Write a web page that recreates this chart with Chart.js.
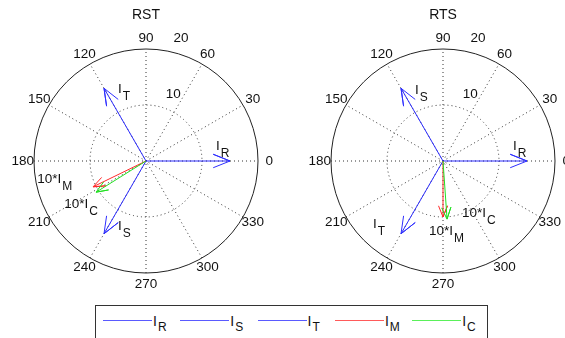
<!DOCTYPE html>
<html>
<head>
<meta charset="utf-8">
<script src="https://cdn.jsdelivr.net/npm/chart.js@4.4.0/dist/chart.umd.min.js"></script>
<style>
  body { margin: 0; background: #fff; width: 565px; height: 338px; overflow: hidden; position: relative;
         font-family: "Liberation Sans", Arial, Helvetica, sans-serif; }
  canvas { position: absolute; top: 0; }
  #rst { left: 0; }
  #rts { left: 295px; }
  #legend { position: absolute; left: 95px; top: 305px; width: 393px; height: 45px;
            border: 1px solid #333; box-sizing: border-box; }
  .lg-line { position: absolute; top: 14px; width: 49px; height: 1px; }
  .lg-text { position: absolute; top: 8px; font-size: 14px; line-height: 14px; color: #111; white-space: nowrap; }
  .lg-text span { position: relative; top: 5px; font-size: 12px; margin-left: 1px; }
</style>
</head>
<body>
<canvas id="rst" width="295" height="300"></canvas>
<canvas id="rts" width="270" height="300"></canvas>
<div id="legend"></div>
<script>
// ----------------------
// DATA
// ----------------------
const angleTicks = [0, 30, 60, 90, 120, 150, 180, 210, 240, 270, 300, 330];
const ringTicks = [10, 20];

const seriesSub = ['R', 'S', 'T', 'M', 'C'];
const labelMain = ['I', 'I', 'I', '10*I', '10*I'];

// RST: magnitudes and angles (deg), currents M and C scaled x10
const rstMagnitude = [15, 15, 15, 10.5, 10.5];
const rstAngle = [0, 240, 120, 206, 212];

// RTS
const rtsMagnitude = [15, 15, 15, 10, 10.4];
const rtsAngle = [0, 120, 240, 270, 274];

// ----------------------
// STYLE
// ----------------------
const seriesColors = ['#2e2eff', '#2e2eff', '#2e2eff', '#ff2a2a', '#22e022'];
const legendColors = ['#5a5aff', '#5a5aff', '#5a5aff', '#ff5a5a', '#5af05a'];
const FONT = '"Liberation Sans", Arial, Helvetica, sans-serif';

// label offsets in px from each arrow tip (left-baseline of main text)
const rstLabelOffsets = [[-14, -11], [14, -4], [14, 5], [-56, -4], [-32, 16]];
const rtsLabelOffsets = [[-14, -11], [14, 6], [-28, -6], [-14, 18], [15, -2]];

// ----------------------
// HELPERS
// ----------------------
const rad = d => d * Math.PI / 180;

// compass-style arrow: shaft plus two barbs
const arrowPoints = (mag, deg) => {
  const c = Math.cos(rad(deg)), s = Math.sin(rad(deg));
  const shape = [[0, 0], [1, 0], [0.8, 0.08], [1, 0], [0.8, -0.08]];
  return shape.map(([u, v]) => ({ x: mag * (u * c - v * s), y: mag * (u * s + v * c) }));
};

const drawSubText = (ctx, x, y, main, sub) => {
  ctx.font = '13.5px ' + FONT;
  ctx.textAlign = 'left';
  ctx.textBaseline = 'alphabetic';
  ctx.fillText(main, x, y);
  const w = ctx.measureText(main).width;
  ctx.font = '12px ' + FONT;
  ctx.fillText(sub, x + w + 1, y + 7);
};

// ----------------------
// POLAR GRID PLUGIN
// ----------------------
const polarGrid = {
  id: 'polarGrid',
  beforeDatasetsDraw(chart) {
    const { ctx, scales: { x, y } } = chart;
    const cx = x.getPixelForValue(0), cy = y.getPixelForValue(0);
    const rmax = ringTicks[ringTicks.length - 1];
    const R = x.getPixelForValue(rmax) - cx;
    ctx.save();
    ctx.strokeStyle = '#333';
    ctx.lineWidth = 1;
    ctx.setLineDash([1, 3]);
    // spokes through the centre
    angleTicks.filter(a => a < 180).forEach(a => {
      const dx = R * Math.cos(rad(a)), dy = R * Math.sin(rad(a));
      ctx.beginPath();
      ctx.moveTo(cx - dx, cy + dy);
      ctx.lineTo(cx + dx, cy - dy);
      ctx.stroke();
    });
    ringTicks.slice(0, -1).forEach(r => {
      ctx.beginPath();
      ctx.arc(cx, cy, x.getPixelForValue(r) - cx, 0, Math.PI * 2);
      ctx.stroke();
    });
    ctx.setLineDash([]);
    ctx.strokeStyle = '#222';
    ctx.beginPath();
    ctx.arc(cx, cy, R, 0, Math.PI * 2);
    ctx.stroke();
    ctx.restore();
  },
  afterDraw(chart, args, opts) {
    const { ctx, scales: { x, y } } = chart;
    const cx = x.getPixelForValue(0), cy = y.getPixelForValue(0);
    const rmax = ringTicks[ringTicks.length - 1];
    ctx.save();
    ctx.fillStyle = '#111';
    ctx.font = '14px ' + FONT;
    ctx.textAlign = 'center';
    ctx.textBaseline = 'middle';
    ctx.fillText(opts.title, cx, 15);
    // angle labels
    ctx.font = '13.5px ' + FONT;
    angleTicks.forEach(a => {
      const px = x.getPixelForValue(1.1 * rmax * Math.cos(rad(a)));
      const py = y.getPixelForValue(1.1 * rmax * Math.sin(rad(a)));
      ctx.fillText(String(a), px, py);
    });
    // ring labels
    ctx.textAlign = 'left';
    ctx.textBaseline = 'bottom';
    ringTicks.forEach(r => {
      const rr = r + ringTicks[0] / 20;
      const px = x.getPixelForValue(rr * Math.cos(rad(82))) + 4;
      const py = y.getPixelForValue(rr * Math.sin(rad(82))) - 2;
      ctx.fillText('  ' + r, px, py);
    });
    // vector labels
    opts.mags.forEach((m, i) => {
      const tx = x.getPixelForValue(m * Math.cos(rad(opts.angles[i])));
      const ty = y.getPixelForValue(m * Math.sin(rad(opts.angles[i])));
      const [ox, oy] = opts.offsets[i];
      drawSubText(ctx, tx + ox, ty + oy, labelMain[i], seriesSub[i]);
    });
    ctx.restore();
  }
};

// ----------------------
// CHARTS
// ----------------------
const makeCompass = (id, title, mags, angles, offsets, padding) => {
  const n = mags.length;
  return new Chart(document.getElementById(id), {
    type: 'scatter',
    data: {
      datasets: mags.map((m, i) => ({
        label: 'I' + seriesSub[i],
        data: arrowPoints(m, angles[i]),
        showLine: true,
        borderColor: seriesColors[i],
        backgroundColor: seriesColors[i],
        borderWidth: 1,
        pointRadius: 0,
        tension: 0,
        order: n - i
      }))
    },
    options: {
      responsive: false,
      animation: false,
      events: [],
      layout: { padding },
      scales: {
        x: { type: 'linear', min: -20, max: 20, display: false },
        y: { type: 'linear', min: -20, max: 20, display: false }
      },
      plugins: {
        legend: { display: false },
        tooltip: { enabled: false },
        polarGrid: { title, mags, angles, offsets }
      }
    },
    plugins: [polarGrid]
  });
};

makeCompass('rst', 'RST', rstMagnitude, rstAngle, rstLabelOffsets, { left: 34, right: 37, top: 49, bottom: 27 });
makeCompass('rts', 'RTS', rtsMagnitude, rtsAngle, rtsLabelOffsets, { left: 36, right: 10, top: 49, bottom: 27 });

// ----------------------
// LEGEND
// ----------------------
const legend = document.getElementById('legend');
seriesSub.forEach((s, i) => {
  const left = 7 + i * 77.3;
  const line = document.createElement('div');
  line.className = 'lg-line';
  line.style.left = left + 'px';
  line.style.background = legendColors[i];
  legend.appendChild(line);
  const txt = document.createElement('div');
  txt.className = 'lg-text';
  txt.style.left = (left + 50) + 'px';
  txt.innerHTML = 'I<span>' + s + '</span>';
  legend.appendChild(txt);
});
</script>
</body>
</html>
